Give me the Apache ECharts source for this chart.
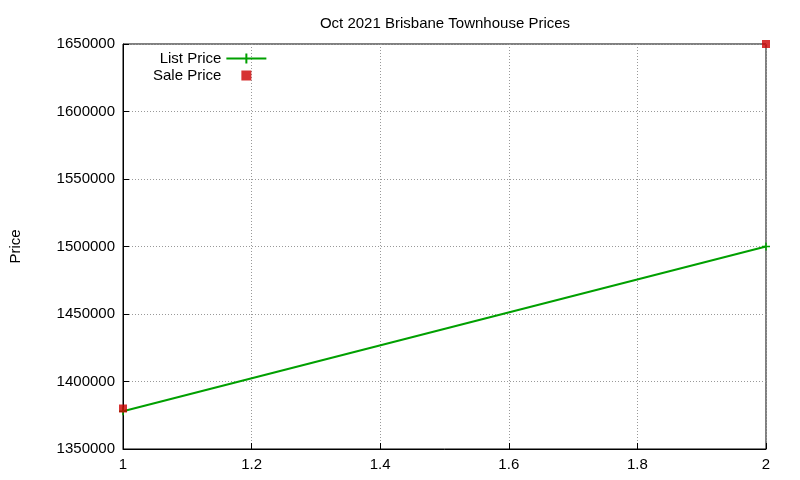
<!DOCTYPE html>
<html><head><meta charset="utf-8">
<script src="https://cdn.jsdelivr.net/npm/echarts@6/dist/echarts.min.js"></script>
<style>html,body{margin:0;padding:0;background:#fff}#c{width:800px;height:480px}</style>
</head><body><div id="c"></div>
<script>
const xValues = [1, 2];
const listPrice = [1378000, 1500000];
const salePrice = [1380000, 1650000];
const title = 'Oct 2021 Brisbane Townhouse Prices';
const chart = echarts.init(document.getElementById('c'));
const font = 'Liberation Sans, Arial, sans-serif';
chart.setOption({
  animation: false,
  title: {text: title, left: 440, top: 11, textAlign: 'center', textStyle: {fontFamily: font, fontSize: 15, fontWeight: 'normal', color: '#000'}},
  legend: {
    orient: 'vertical', left: 148, top: 46, align: 'right', itemGap: 2, itemWidth: 40, itemHeight: 10,
    textStyle: {fontFamily: font, fontSize: 15, color: '#000'},
    data: [{name: 'List Price', icon: 'path://M0,5L40,5M20,0L20,10'}, {name: 'Sale Price', icon: 'path://M16,1h8v8h-8z'}]
  },
  grid: {left: 118, right: 34, top: 44, bottom: 31, show: true, borderColor: '#000', borderWidth: 1},
  xAxis: {type: 'value', min: 1, max: 2, interval: 0.2,
    axisLine: {onZero: false, lineStyle: {color: '#000'}}, axisTick: {inside: true, length: 6, lineStyle: {color: '#000'}},
    axisLabel: {fontFamily: font, fontSize: 15, color: '#000', formatter: v => String(+v.toFixed(1))},
    splitLine: {lineStyle: {color: '#999', type: [1, 2]}}},
  yAxis: {type: 'value', min: 1350000, max: 1650000, interval: 50000, name: 'Price', nameLocation: 'middle', nameGap: 100,
    nameTextStyle: {fontFamily: font, fontSize: 15, color: '#000'},
    axisLine: {show: true, lineStyle: {color: '#000'}}, axisTick: {inside: true, length: 6, lineStyle: {color: '#000'}},
    axisLabel: {fontFamily: font, fontSize: 15, color: '#000', formatter: v => String(v)},
    splitLine: {lineStyle: {color: '#999', type: [1, 2]}}},
  series: [
    {name: 'List Price', type: 'line', data: xValues.map((x, i) => [x, listPrice[i]]),
      color: '#00a000', lineStyle: {width: 2, color: '#00a000'}, symbol: 'path://M0,5L10,5M5,0L5,10', symbolSize: 8,
      itemStyle: {color: 'none', borderColor: '#00a000', borderWidth: 1.5}},
    {name: 'Sale Price', type: 'scatter', data: xValues.map((x, i) => [x, salePrice[i]]),
      color: '#cc0000', symbol: 'rect', symbolSize: 8, itemStyle: {color: '#cc0000'}, z: 3}
  ]
});
</script></body></html>
